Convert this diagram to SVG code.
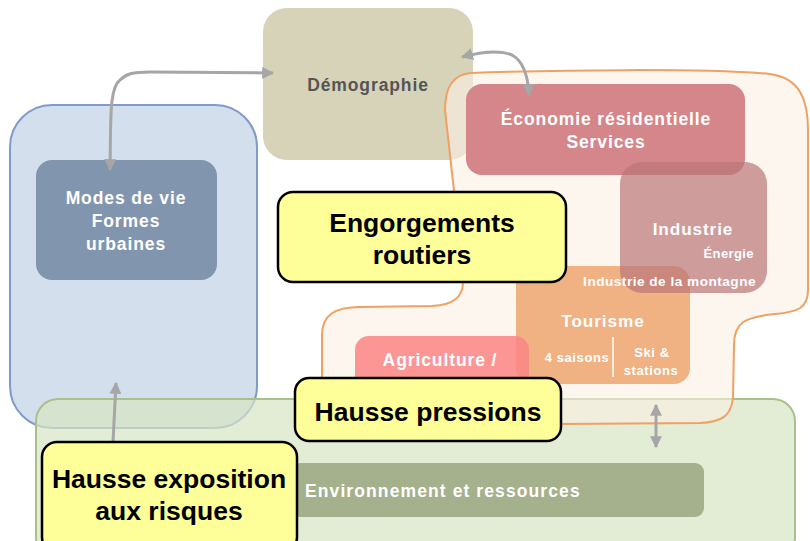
<svg xmlns="http://www.w3.org/2000/svg" width="810" height="541" viewBox="0 0 810 541">
<defs>
<marker id="ah" viewBox="0 0 10 10" refX="9" refY="5" markerWidth="4" markerHeight="4" orient="auto-start-reverse" markerUnits="strokeWidth">
<path d="M0,0 L10,5 L0,10 Z" fill="#a6a6a6"/>
</marker>
<style>
text{font-family:"Liberation Sans",Arial,sans-serif;font-weight:bold}
.w{fill:#ffffff;letter-spacing:0.9px}
.big{fill:#000;font-size:26px;text-anchor:middle}
.yb{fill:#ffff99;stroke:#000;stroke-width:2.5}
.con{fill:none;stroke:#a6a6a6;stroke-width:3}
</style>
</defs>
<rect width="810" height="541" fill="#ffffff"/>

<g id="demographie">
<rect x="263" y="8" width="210" height="152" rx="24" fill="#d6d3b9"/>
<text x="368" y="91" font-size="17.5" fill="#555555" text-anchor="middle" style="letter-spacing:0.9px">Démographie</text>
</g>

<g id="modes-zone">
<rect x="10" y="105" width="247" height="323" rx="42" fill="#d3dfec" stroke="#7f9cc8" stroke-width="2"/>
</g>

<g id="environnement-zone">
<rect x="36" y="399" width="759" height="160" rx="22" fill="rgb(215,228,195)" fill-opacity="0.7" stroke="#a9c08a" stroke-width="2"/>
</g>

<g id="modes-de-vie">
<rect x="36" y="160" width="181" height="120" rx="16" fill="#8295ae"/>
<text class="w" x="126" y="204" font-size="17.5" text-anchor="middle">Modes de vie</text>
<text class="w" x="126" y="227" font-size="17.5" text-anchor="middle">Formes</text>
<text class="w" x="126" y="250" font-size="17.5" text-anchor="middle">urbaines</text>
</g>

<g id="economie-zone">
<path d="M470,73 C560,70 700,68 770,74 C800,78 808,100 808,130 L808,290 C808,308 798,312 775,314 C745,317 734,322 734,345 L733,398 C731,416 722,422 700,423 L560,424 L345,422 C328,420 322,410 322,390 L322,335 C322,315 335,307 360,307 L432,306 C455,305 463,296 463,282 L455,200 L445,110 C445,88 452,75 470,73 Z" fill="rgb(252,240,228)" fill-opacity="0.6" stroke="#f0a060" stroke-width="2"/>
</g>

<g id="economie-residentielle">
<rect x="466" y="84" width="279" height="91" rx="16" fill="#d5868a"/>
<text class="w" x="606" y="125" font-size="17.5" text-anchor="middle">Économie résidentielle</text>
<text class="w" x="606" y="148" font-size="17.5" text-anchor="middle">Services</text>
</g>

<g id="tourisme">
<rect x="516" y="266" width="174" height="118" rx="16" fill="#f0b283"/>
<text class="w" x="603" y="327" font-size="17.2" text-anchor="middle">Tourisme</text>
<text class="w" x="577" y="362" font-size="13" text-anchor="middle" style="letter-spacing:0.6px">4 saisons</text>
<line x1="613" y1="337" x2="613" y2="377" stroke="#ffffff" stroke-width="1.5"/>
<text class="w" x="652" y="357" font-size="13" text-anchor="middle" style="letter-spacing:0.6px">Ski &amp;</text>
<text class="w" x="651" y="375" font-size="13" text-anchor="middle" style="letter-spacing:0.6px">stations</text>
</g>

<g id="industrie">
<rect x="620" y="162" width="147" height="131" rx="22" fill="#b87678" fill-opacity="0.7"/>
<text class="w" x="693" y="235" font-size="17.2" text-anchor="middle">Industrie</text>
<text class="w" x="754" y="258" font-size="13" text-anchor="end" style="letter-spacing:0.4px">Énergie</text>
<text class="w" x="756" y="286" font-size="13.6" text-anchor="end" style="letter-spacing:0.5px">Industrie de la montagne</text>
</g>

<g id="agriculture">
<rect x="355" y="336" width="174" height="80" rx="14" fill="#fa8585" fill-opacity="0.85"/>
<text class="w" x="440" y="366" font-size="17.5" text-anchor="middle">Agriculture /</text>
</g>

<g id="environnement">
<rect x="290" y="463" width="414" height="54" rx="9" fill="#a5b08d"/>
<text class="w" x="305" y="497" font-size="17.5" style="letter-spacing:1.1px">Environnement et ressources</text>
</g>

<g id="connectors">
<path class="con" d="M110,170 C111,120 109,88 120,80 C126,74 132,72 150,72 L273,73" marker-start="url(#ah)" marker-end="url(#ah)"/>
<path class="con" d="M462,57 C480,52 500,50 512,55 C523,61 528,75 529,95" marker-start="url(#ah)" marker-end="url(#ah)"/>
<path class="con" d="M113,442 L116,383" marker-end="url(#ah)"/>
<path class="con" d="M656,405 L656,447" marker-start="url(#ah)" marker-end="url(#ah)"/>
</g>

<g id="engorgements-routiers">
<rect class="yb" x="278" y="192" width="288" height="90" rx="15"/>
<text class="big" x="422" y="232" style="font-size:26.5px">Engorgements</text>
<text class="big" x="422" y="264" style="font-size:26.5px">routiers</text>
</g>

<g id="hausse-pressions">
<rect class="yb" x="295" y="378" width="266" height="63" rx="14"/>
<text class="big" x="428" y="421" style="font-size:26.5px">Hausse pressions</text>
</g>

<g id="hausse-exposition">
<rect class="yb" x="42" y="442" width="255" height="110" rx="15"/>
<text class="big" x="169" y="488" style="font-size:26.5px">Hausse exposition</text>
<text class="big" x="169" y="520" style="font-size:26.5px">aux risques</text>
</g>
</svg>
